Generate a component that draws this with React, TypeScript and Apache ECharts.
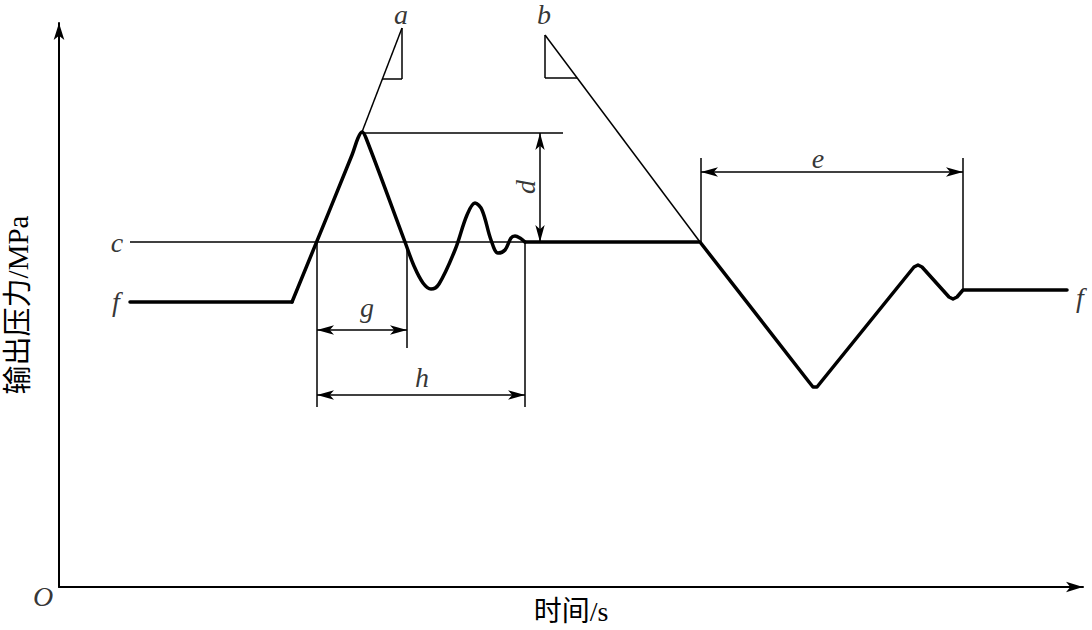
import React, { useEffect, useRef } from "react";
import * as echarts from "echarts";

// Diagram data (x: time units, y: pressure units)
const baseFlat = [[130, 285], [292, 285]];
const ringing = [
  [292, 285], [352, 432], [358, 449], [362, 455], [366, 449], [405, 345],
  [414, 321], [423, 304], [431, 298], [439, 303], [455, 337], [467, 372],
  [475, 384], [482, 377], [491, 347], [498, 334], [505, 337], [511, 349],
  [515, 351], [520, 349], [525, 345],
];
const recovery = [
  [525, 345], [700, 345], [809, 205], [813, 200], [817, 200], [821, 205],
  [914, 320], [918, 322], [922, 320], [949, 290], [953, 288], [957, 290],
  [963, 297], [1067, 297],
];
// thin reference lines [x1, y1, x2, y2]
const thinSegments = [
  [130, 345, 700, 345],
  [362, 455, 402, 559],
  [402, 559, 402, 508],
  [382, 508, 402, 508],
  [545, 552, 700, 345],
  [545, 552, 545, 509],
  [545, 509, 577, 509],
  [362, 454, 563, 454],
  [701, 429, 701, 345],
  [963, 429, 963, 297],
  [317, 345, 317, 180],
  [407, 337, 407, 239],
  [525, 345, 525, 180],
];
// dimension arrows [x1, y1, x2, y2]
const dimArrows = [
  [540, 454, 540, 345],
  [701, 415, 963, 415],
  [317, 257, 407, 257],
  [317, 192, 525, 192],
];
const letterNames = ["a", "b", "c", "f", "f", "d", "e", "g", "h", "O"];
const letterX = [401, 544, 117, 116, 1080, 525, 818, 367, 422, 43];
const letterY = [573, 573, 345, 286, 290, 400, 429, 280, 210, -9];
const letterRotate = [0, 0, 0, 0, 0, 90, 0, 0, 0, 0];

const yTitle = "输出压力/MPa";
const xTitle = "时间/s";

export default function App() {
  const ref = useRef<HTMLDivElement>(null);
  useEffect(() => {
    if (!ref.current) return;
    const chart = echarts.init(ref.current, null, { renderer: "svg" });
    const black = "#000";
    const thick = { color: black, width: 3.5, cap: "round", join: "round" } as any;
    const thin = { color: black, width: 1.5 } as any;
    const series: any[] = [
      { type: "line", data: baseFlat, symbol: "none", lineStyle: thick, silent: true },
      { type: "line", data: ringing, symbol: "none", smooth: 0.35, lineStyle: thick, silent: true },
      { type: "line", data: recovery, symbol: "none", lineStyle: thick, silent: true },
    ];
    thinSegments.forEach((s) => {
      series.push({
        type: "line",
        data: [[s[0], s[1]], [s[2], s[3]]],
        symbol: "none",
        lineStyle: thin,
        silent: true,
      });
    });
    series.push({
      type: "line",
      data: [],
      silent: true,
      markLine: {
        silent: true,
        symbol: ["arrow", "arrow"],
        symbolSize: [7, 17],
        label: { show: false },
        lineStyle: { color: black, width: 1.5, type: "solid" },
        emphasis: { disabled: true },
        data: dimArrows.map((s) => [{ coord: [s[0], s[1]] }, { coord: [s[2], s[3]] }]),
      },
    });
    series.push({
      type: "scatter",
      clip: false,
      silent: true,
      symbolSize: 0,
      data: letterNames.map((n, i) => ({
        name: n,
        value: [letterX[i], letterY[i]],
        label: { rotate: letterRotate[i] },
      })),
      label: {
        show: true,
        position: "inside",
        formatter: (p: any) => p.name,
        fontFamily: "Liberation Serif",
        fontStyle: "italic",
        fontSize: 28,
        color: black,
      },
    });
    chart.setOption({
      animation: false,
      backgroundColor: "#fff",
      grid: { left: 59, right: 9, top: 23, bottom: 43, containLabel: false, outerBoundsMode: "none" },
      xAxis: {
        type: "value",
        min: 59,
        max: 1083,
        name: xTitle,
        nameLocation: "middle",
        nameGap: 10,
        nameTextStyle: { fontFamily: "Liberation Serif, Noto Sans CJK SC", fontSize: 28, color: black },
        axisLine: { show: true, onZero: false, symbol: ["none", "arrow"], symbolSize: [8, 17], lineStyle: { color: black, width: 2 } },
        axisTick: { show: false },
        axisLabel: { show: false },
        splitLine: { show: false },
      },
      yAxis: {
        type: "value",
        min: 0,
        max: 564,
        name: yTitle,
        nameLocation: "middle",
        nameRotate: 90,
        nameGap: 27,
        nameTextStyle: { fontFamily: "Liberation Serif, Noto Sans CJK SC", fontSize: 29, color: black, padding: [0, 0, 0, 0] },
        axisLine: { show: true, symbol: ["none", "arrow"], symbolSize: [8, 17], lineStyle: { color: black, width: 2 } },
        axisTick: { show: false },
        axisLabel: { show: false },
        splitLine: { show: false },
      },
      series,
    });
    return () => chart.dispose();
  }, []);
  return (
    <div
      ref={ref}
      style={{ position: "absolute", left: 0, top: 0, width: 1092, height: 630, background: "#fff" }}
    />
  );
}
